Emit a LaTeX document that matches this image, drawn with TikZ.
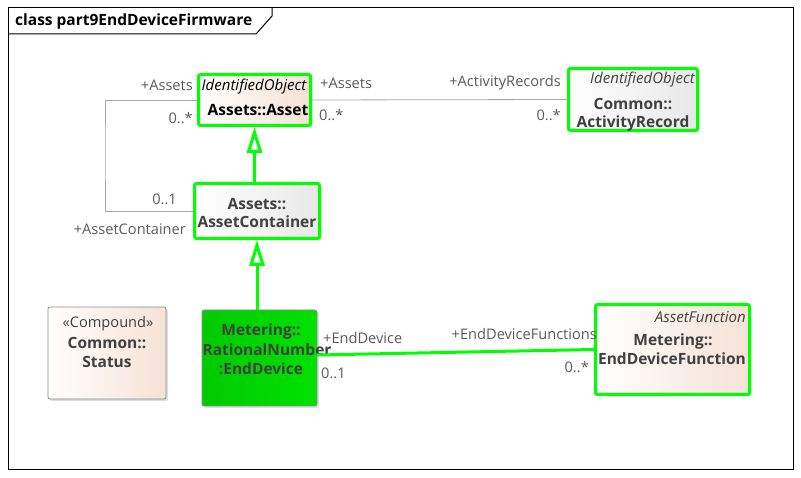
\documentclass[tikz,border=0pt]{standalone}
\usepackage{fontspec}
\setmainfont{Open Sans}
\usepackage{tikz}
\usetikzlibrary{arrows.meta}
\usetikzlibrary{shadows}
\usetikzlibrary{positioning}
\definecolor{umlgreen}{RGB}{0,255,0}
\definecolor{devgreen}{RGB}{0,225,0}
\definecolor{peach}{RGB}{245,226,214}
\definecolor{palegray}{RGB}{232,232,232}
\definecolor{labelgray}{RGB}{90,90,90}
\definecolor{namegray}{RGB}{64,64,64}
\tikzset{umlclass/.style={rectangle,draw=umlgreen,line width=3pt,rounded corners=2pt,left color=white,right color=peach,drop shadow={shadow xshift=2pt,shadow yshift=-2pt,fill=black!25}}}
\tikzset{plainclass/.style={umlclass,draw=black!45,line width=0.8pt}}
\tikzset{clsname/.style={font=\bfseries\fontsize{15.5}{18}\selectfont,text=namegray,inner sep=0pt}}
\tikzset{stereo/.style={font=\itshape\fontsize{15}{18}\selectfont,text=namegray,inner sep=0pt}}
\tikzset{role/.style={font=\fontsize{14.6}{18}\selectfont,text=labelgray,inner sep=0pt}}
\tikzset{assoc/.style={draw=black!35,line width=0.8pt}}
\tikzset{greenassoc/.style={draw=umlgreen,line width=3pt}}
\tikzset{generalize/.style={draw=umlgreen,line width=3pt,-{Triangle[open,width=15pt,length=26pt]}}}

\begin{document}
\begin{tikzpicture}[x=1pt,y=-1pt]
  \useasboundingbox (0,0) rectangle (801,478);
  % frame
  \draw [line width=1pt] (8,8) rectangle (793,469);
  \draw [line width=1pt] (8,34) -- (256,34) -- (272,16) -- (272,8);
  \node [anchor=west,inner sep=0pt,font=\bfseries\fontsize{15.5}{18}\selectfont] (title) at (15,21) {class part9EndDeviceFirmware};

  % classes
  \node [umlclass,minimum width=112pt,minimum height=51pt] (Asset) at (254.5,100) {};
  \node [umlclass,left color=white,right color=palegray,minimum width=125pt,minimum height=55pt] (Container) at (257,211) {};
  \node [umlclass,left color=white,right color=palegray,minimum width=129pt,minimum height=62pt] (Record) at (633,99.5) {};
  \node [plainclass,minimum width=118pt,minimum height=92pt] (Status) at (107,353) {};
  \node [plainclass,left color=devgreen!90!black,right color=devgreen,minimum width=115pt,minimum height=96pt] (Device) at (259.5,358) {};
  \node [umlclass,minimum width=154pt,minimum height=90pt] (Function) at (672.5,349.5) {};

  % class texts
  \node [stereo,text=black] (AssetSt) at (254,87) {IdentifiedObject};
  \node [clsname,text=black] (AssetNm) at (258,110) {Assets::Asset};
  \node [clsname] (ContainerNs) at (257,204) {Assets::};
  \node [clsname] (ContainerNm) at (257,222) {AssetContainer};
  \node [stereo,anchor=east] (RecordSt) at (695,80) {IdentifiedObject};
  \node [clsname] (RecordNs) at (633,104) {Common::};
  \node [clsname] (RecordNm) at (633,123) {ActivityRecord};
  \node [role,text=namegray] (StatusSt) at (108,324) {«Compound»};
  \node [clsname] (StatusNs) at (107,343) {Common::};
  \node [clsname] (StatusNm) at (107,362) {Status};
  \node [clsname] (DeviceNs) at (261,331) {Metering::};
  \node [clsname] (DeviceTy) at (267,350) {RationalNumber};
  \node [clsname] (DeviceNm) at (261,369) {:EndDevice};
  \node [stereo,anchor=east] (FunctionSt) at (746,317) {AssetFunction};
  \node [clsname] (FunctionNs) at (673,341) {Metering::};
  \node [clsname] (FunctionNm) at (672,359) {EndDeviceFunction};

  % connectors
  \coordinate (loop) at (105,150);
  \draw [assoc] (Asset.west) -| (loop) |- (Container.west);
  \draw [assoc] (Asset.east) -- (Record.west);
  \draw [generalize] (Asset.south |- Container.north) -- (Asset.south);
  \draw [generalize] (Container.south |- Device.north) -- (Container.south);
  \draw [greenassoc] ([yshift=3pt]Device.east) -- (Function.west);

  % roles and multiplicities
  \node [role,anchor=east] (r1) at (193,85) {+Assets};
  \node [role,anchor=east] (m1) at (193,118) {0..*};
  \node [role,anchor=east] (m2) at (177,199) {0..1};
  \node [role,anchor=east] (r2) at (186,229) {+AssetContainer};
  \node [role,anchor=west] (r3) at (320,83) {+Assets};
  \node [role,anchor=west] (m3) at (319,115) {0..*};
  \node [role,anchor=east] (r4) at (561,83) {+ActivityRecords};
  \node [role,anchor=east] (m4) at (561,115) {0..*};
  \node [role,anchor=west] (r5) at (323,338) {+EndDevice};
  \node [role,anchor=west] (m5) at (321,373) {0..1};
  \node [role,anchor=east] (r6) at (597,334) {+EndDeviceFunctions};
  \node [role,anchor=east] (m6) at (589,367) {0..*};
\end{tikzpicture}
\end{document}
